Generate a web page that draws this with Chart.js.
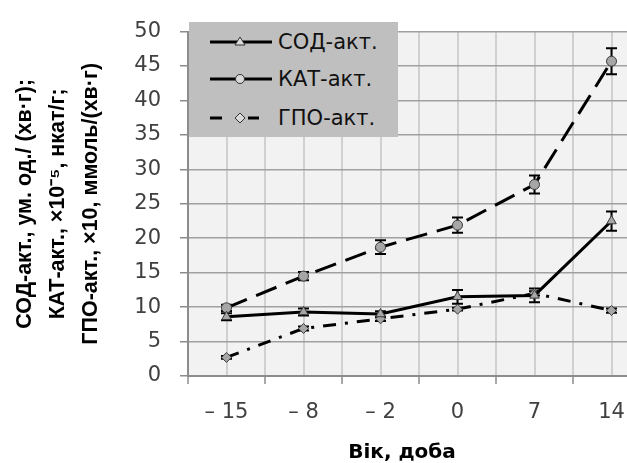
<!DOCTYPE html>
<html><head><meta charset="utf-8">
<script src="https://cdn.jsdelivr.net/npm/chart.js@4/dist/chart.umd.min.js"></script>
<style>
html,body{margin:0;padding:0;background:#fff;}
#wrap{position:relative;width:627px;height:463px;overflow:hidden;}
#box{position:absolute;left:0;top:0;width:660px;height:463px;}
#legend{position:absolute;left:189px;top:22px;width:209px;height:115px;background:#bfbfbf;font-family:"DejaVu Sans";font-size:21px;color:#111;}
.row{position:absolute;left:0;height:30px;width:209px;}
.row svg{position:absolute;left:20px;top:5px;}
.row span{position:absolute;left:89px;top:0;line-height:30px;white-space:nowrap;}
#xtitle{position:absolute;left:282px;width:240px;top:437px;text-align:center;font-family:"DejaVu Sans";font-weight:bold;font-size:20px;color:#000;line-height:28px;}
</style></head>
<body>
<div id="wrap">
  <div id="box"><canvas id="cv" width="660" height="463"></canvas></div>
  <div id="legend"></div>
  <div id="xtitle">Вік, доба</div>
</div>
<script>
const categories = ['– 15', '– 8', '– 2', '0', '7', '14'];
const sodValues = [8.6, 9.3, 9.0, 11.5, 11.7, 22.5];
const sodErrors = [0.5, 0.5, 0.4, 1.0, 1.0, 1.4];
const katValues = [9.9, 14.5, 18.7, 21.9, 27.8, 45.7];
const katErrors = [0.45, 0.6, 1.0, 1.1, 1.3, 1.9];
const gpoValues = [2.7, 6.9, 8.3, 9.7, 12.0, 9.5];
const gpoErrors = [0.2, 0.3, 0.3, 0.2, 0.3, 0.3];
const seriesNames = ['СОД-акт.', 'КАТ-акт.', 'ГПО-акт.'];
const yTitle = ['СОД-акт., ум. од./ (хв·г);', 'КАТ-акт., ×10⁻⁵, нкат/г;', 'ГПО-акт., ×10, ммоль/(хв·г)'];

const markerFill = '#a6a6a6';
const markerBorder = '#3a3a3a';

const bgPlugin = {
  id: 'bg',
  beforeDraw(chart) {
    const {ctx, chartArea: a} = chart;
    ctx.save();
    ctx.fillStyle = '#f2f2f2';
    ctx.fillRect(a.left, a.top, a.right - a.left, a.bottom - a.top);
    ctx.restore();
  }
};
const errPlugin = {
  id: 'err',
  beforeDatasetsDraw(chart) {
    const {ctx} = chart;
    const xs = chart.scales.x, ys = chart.scales.y;
    ctx.save();
    ctx.strokeStyle = '#000';
    ctx.lineWidth = 2;
    chart.data.datasets.forEach(ds => {
      ds.data.forEach((v, j) => {
        const e = ds.errors[j];
        const px = xs.getPixelForValue(j);
        const t = ys.getPixelForValue(v + e);
        const b = ys.getPixelForValue(v - e);
        ctx.beginPath();
        ctx.moveTo(px, t); ctx.lineTo(px, b);
        ctx.moveTo(px - 5.5, t); ctx.lineTo(px + 5.5, t);
        ctx.moveTo(px - 5.5, b); ctx.lineTo(px + 5.5, b);
        ctx.stroke();
      });
    });
    ctx.restore();
  }
};

const common = {borderColor: '#000', borderWidth: 3, pointBackgroundColor: markerFill, pointBorderColor: markerBorder, pointBorderWidth: 1, pointRadius: 5, tension: 0, fill: false};

new Chart(document.getElementById('cv'), {
  type: 'line',
  data: {
    labels: categories,
    datasets: [
      Object.assign({}, common, {label: seriesNames[0], data: sodValues, errors: sodErrors, pointStyle: 'triangle', pointRadius: 5.5}),
      Object.assign({}, common, {label: seriesNames[1], data: katValues, errors: katErrors, pointStyle: 'circle', borderDash: [22, 10]}),
      Object.assign({}, common, {label: seriesNames[2], data: gpoValues, errors: gpoErrors, pointStyle: 'rectRot', borderDash: [13, 9, 3, 9]})
    ]
  },
  options: {
    responsive: false,
    animation: false,
    layout: {padding: {top: 22, right: 10, left: 0, bottom: 0}},
    plugins: {legend: {display: false}, tooltip: {enabled: false}},
    scales: {
      x: {
        type: 'category', position: 'bottom', offset: true,
        grid: {offset: true, color: '#d0d0d0', lineWidth: 2, tickLength: 8, tickColor: '#8c8c8c', tickWidth: 1.5},
        border: {color: '#8c8c8c', width: 2},
        ticks: {color: '#404040', font: {family: 'DejaVu Sans', size: 21}, padding: 16, maxRotation: 0, autoSkip: false},
        afterFit(s) { s.height = 87; }
      },
      x2: {
        type: 'category', position: 'top', offset: true, labels: categories,
        grid: {offset: false, color: '#d0d0d0', lineWidth: 2, drawTicks: false},
        border: {display: false},
        ticks: {display: false},
        afterFit(s) { s.height = 0; }
      },
      y: {
        min: 0, max: 50,
        grid: {color: '#a0a0a0', lineWidth: 1.5, tickLength: 8, tickColor: '#8c8c8c'},
        border: {color: '#8c8c8c', width: 2},
        ticks: {stepSize: 5, color: '#404040', font: {family: 'DejaVu Sans', size: 21}, padding: 19},
        title: {display: true, text: yTitle, color: '#000', font: {family: 'Liberation Sans', weight: 'bold', size: 21.5, lineHeight: 1.55}, padding: {top: 8, bottom: 0}},
        afterFit(s) { s.width = 188; }
      }
    }
  },
  plugins: [bgPlugin, errPlugin]
});

// legend (HTML overlay)
const legendRows = [
  {name: seriesNames[0], top: 5, svg: '<line x1="1" y1="10" x2="63" y2="10" stroke="#000" stroke-width="3"/><polygon points="31,5 36,13 26,13" fill="#d9d9d9" stroke="#333" stroke-width="1"/>'},
  {name: seriesNames[1], top: 42, svg: '<line x1="1" y1="10" x2="63" y2="10" stroke="#000" stroke-width="3"/><circle cx="31" cy="10" r="4.5" fill="#d9d9d9" stroke="#333" stroke-width="1"/>'},
  {name: seriesNames[2], top: 81, svg: '<line x1="1" y1="10" x2="13" y2="10" stroke="#000" stroke-width="3"/><line x1="39" y1="10" x2="50" y2="10" stroke="#000" stroke-width="3"/><polygon points="31,5 36,10 31,15 26,10" fill="#d9d9d9" stroke="#333" stroke-width="1"/>'}
];
const lg = document.getElementById('legend');
legendRows.forEach(r => {
  const d = document.createElement('div');
  d.className = 'row';
  d.style.top = r.top + 'px';
  d.innerHTML = '<svg width="64" height="20" viewBox="0 0 64 20">' + r.svg + '</svg><span>' + r.name + '</span>';
  lg.appendChild(d);
});
</script>
</body></html>
